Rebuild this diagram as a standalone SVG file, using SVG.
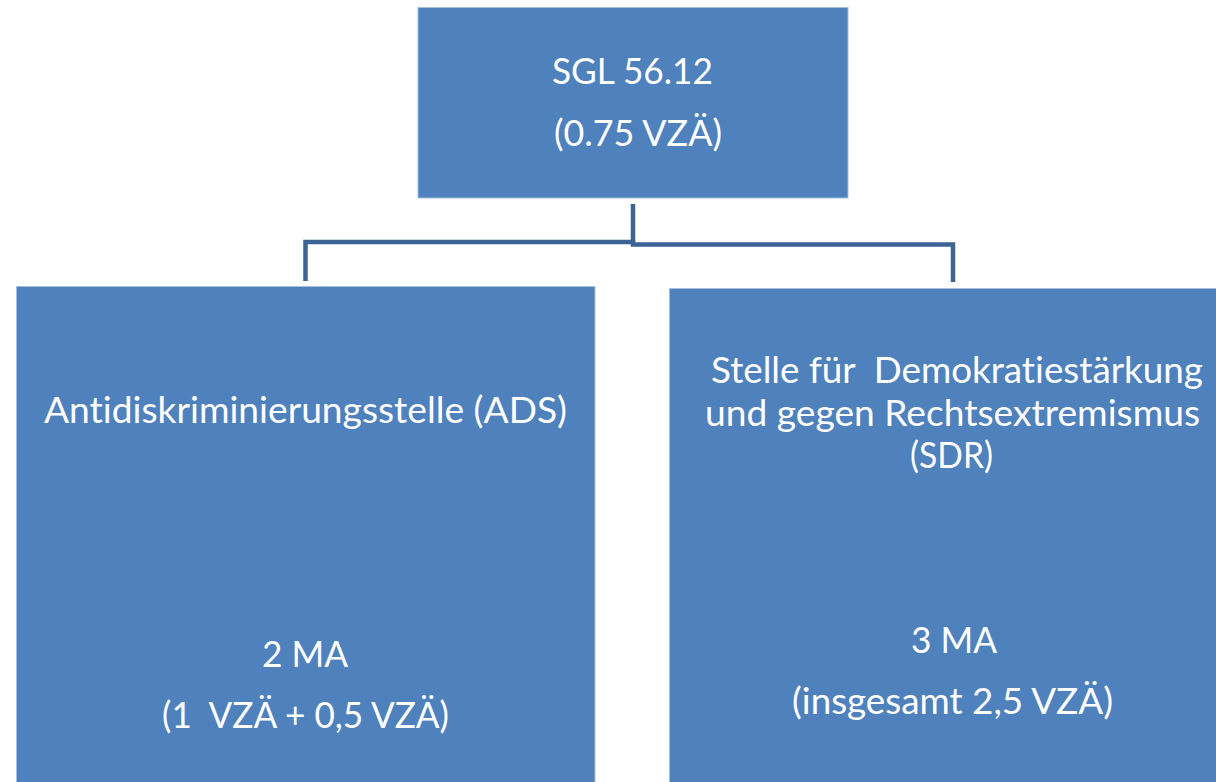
<svg xmlns="http://www.w3.org/2000/svg" width="1216" height="782" viewBox="0 0 1216 782">
<style>
.box{fill:#4F81BD;stroke:#A7BFDE;stroke-width:1}
.t{font-family:Lato,"Open Sans","Liberation Sans",sans-serif;font-size:36px;fill:#FFFFFF;white-space:pre;font-variant-ligatures:none}
.c{fill:none;stroke:#3B6394;stroke-width:4.5}
</style>
<rect width="1216" height="782" fill="#FFFFFF"/>
<g id="connectors">
<polyline class="c" points="633,204 633,242 305.5,242 305.5,281"/>
<polyline class="c" points="633,240 633,244.5 953,244.5 953,282"/>
</g>
<g id="sgl">
<rect class="box" x="418" y="7.5" width="430" height="190.5"/>
<text class="t" x="552" y="84" textLength="161" lengthAdjust="spacingAndGlyphs">SGL 56.12</text>
<text class="t" x="554" y="146" textLength="168" lengthAdjust="spacingAndGlyphs">(0.75 VZÄ)</text>
</g>
<g id="ads">
<rect class="box" x="16.5" y="286.5" width="578.5" height="500"/>
<text class="t" x="44" y="423" textLength="523" lengthAdjust="spacingAndGlyphs">Antidiskriminierungsstelle (ADS)</text>
<text class="t" x="262" y="667" textLength="86" lengthAdjust="spacingAndGlyphs">2 MA</text>
<text class="t" x="162" y="728" textLength="287" lengthAdjust="spacingAndGlyphs" xml:space="preserve">(1  VZÄ + 0,5 VZÄ)</text>
</g>
<g id="sdr">
<rect class="box" x="669.5" y="288.5" width="550" height="500"/>
<text class="t" x="711" y="383" textLength="492" lengthAdjust="spacingAndGlyphs" xml:space="preserve">Stelle für  Demokratiestärkung</text>
<text class="t" x="705" y="426" textLength="495" lengthAdjust="spacingAndGlyphs">und gegen Rechtsextremismus</text>
<text class="t" x="910" y="468" textLength="83" lengthAdjust="spacingAndGlyphs">(SDR)</text>
<text class="t" x="911" y="653" textLength="86" lengthAdjust="spacingAndGlyphs">3 MA</text>
<text class="t" x="792" y="714" textLength="321" lengthAdjust="spacingAndGlyphs">(insgesamt 2,5 VZÄ)</text>
</g>
</svg>
